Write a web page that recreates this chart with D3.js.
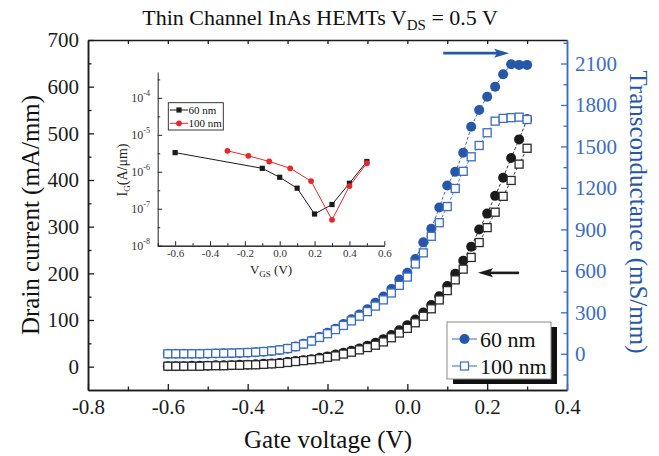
<!DOCTYPE html>
<html><head><meta charset="utf-8">
<script src="https://cdn.jsdelivr.net/npm/d3@7"></script>
<style>body{margin:0;background:#fff} svg{display:block} text{font-family:"Liberation Serif","Times New Roman",serif}</style>
</head><body><svg id="c" width="659" height="456"></svg>
<script>
// ---------- data ----------
const gateV = [-0.60,-0.58,-0.56,-0.54,-0.52,-0.50,-0.48,-0.46,-0.44,-0.42,-0.40,-0.38,-0.36,-0.34,-0.32,-0.30,-0.28,-0.26,-0.24,-0.22,-0.20,-0.18,-0.16,-0.14,-0.12,-0.10,-0.08,-0.06,-0.04,-0.02,0.00,0.02,0.04,0.06,0.08,0.10,0.12,0.14,0.16,0.18,0.20,0.22,0.24,0.26,0.28,0.30];
const id60  = [1,1,1,2,2,2,3,3,3,4,4,5,6,7,8,10,12,14,16,19,22,26,30,34,39,45,51,59,68,78,89,101,116,132,151,173,199,227,257,294,328,366,405,447,487,530];
const id100 = [1,1,1,1,1,2,2,2,3,3,4,4,5,6,7,9,11,13,15,17,20,23,27,31,36,41,46,53,62,72,82,94,108,124,143,163,186,209,234,266,298,331,365,399,434,468];
const gm60  = [0,0,0,0,0,1,2,3,4,6,8,11,15,20,27,37,52,72,95,122,152,182,215,250,285,322,370,414,468,538,586,685,806,905,1058,1217,1316,1454,1642,1763,1860,1932,2022,2095,2090,2090];
const gm100 = [0,0,0,0,0,2,3,4,5,7,9,12,16,21,28,38,52,70,92,118,145,175,205,238,272,305,345,390,440,495,555,650,730,850,948,1065,1196,1320,1425,1507,1599,1683,1703,1708,1712,1695];

const xTickLabels = [-0.8,-0.6,-0.4,-0.2,0.0,0.2,0.4];
const leftTicks = [0,100,200,300,400,500,600,700];
const rightTicks = [0,300,600,900,1200,1500,1800,2100];
const legendLabels = ["60 nm","100 nm"];

const insetV60  = [-0.6,-0.1,0.0,0.1,0.2,0.3,0.4,0.5];
const insetIg60 = [3.3e-6,1.24e-6,7.1e-7,3.6e-7,7.2e-8,1.3e-7,4.9e-7,1.9e-6];
const insetV100 = [-0.3,-0.18,-0.06,0.06,0.18,0.3,0.4,0.5];
const insetIg100= [3.7e-6,2.7e-6,1.9e-6,1.24e-6,5.6e-7,5.0e-8,4.1e-7,1.7e-6];
const insetXTicks = [-0.6,-0.4,-0.2,0.0,0.2,0.4,0.6];
const insetYExp = [-8,-7,-6,-5,-4];

// ---------- setup ----------
const svg = d3.select('#c');
const BLUE = '#2657a8', BLUE2 = '#3b6cc2', RED = '#e8262b', BLK = '#1b1b1b';
const FONT = '"Liberation Serif","Times New Roman",serif';
const x  = d3.scaleLinear([-0.8,0.4],[88,567]);
const yL = d3.scaleLinear([-50,700],[390,40]);
const yR = d3.scaleLinear([-262,2270],[390,40]);
const f1 = d => d3.format('.1f')(d).replace('\u2212','-');
const fInt = d => String(d);

function style(g, color, fs){
  g.attr('font-family',FONT).attr('font-size',fs);
  g.select('.domain').attr('stroke',color).attr('stroke-width',1.5);
  g.selectAll('.tick line').attr('stroke',color).attr('stroke-width',1.3);
  g.selectAll('.tick text').attr('fill',color);
}
const r2 = (a,b,s)=>d3.range(a,b+s/2,s).map(v=>+v.toFixed(3));

// bottom axis
style(svg.append('g').attr('transform','translate(0,390)')
  .call(d3.axisBottom(x).tickValues(r2(-0.7,0.3,0.2)).tickSize(-3.5).tickSizeOuter(0).tickFormat('')),BLK,20);
style(svg.append('g').attr('transform','translate(0,390)')
  .call(d3.axisBottom(x).tickValues(xTickLabels).tickSize(-6).tickSizeOuter(0).tickPadding(9).tickFormat(f1)),BLK,21);
// top axis
style(svg.append('g').attr('transform','translate(0,40)')
  .call(d3.axisTop(x).tickValues(r2(-0.7,0.3,0.1)).tickSize(-4).tickSizeOuter(0).tickFormat('')),BLK,20);
// left axis
style(svg.append('g').attr('transform','translate(88,0)')
  .call(d3.axisLeft(yL).tickValues(r2(50,650,100)).tickSize(-3.5).tickSizeOuter(0).tickFormat('')),BLK,20);
style(svg.append('g').attr('transform','translate(88,0)')
  .call(d3.axisLeft(yL).tickValues(leftTicks).tickSize(-6).tickSizeOuter(0).tickPadding(9).tickFormat(fInt)),BLK,21);
// right axis (blue)
style(svg.append('g').attr('transform','translate(567,0)')
  .call(d3.axisRight(yR).tickValues(r2(-150,2250,300)).tickSize(-3.5).tickSizeOuter(0).tickFormat('')),BLUE2,20);
style(svg.append('g').attr('transform','translate(567,0)')
  .call(d3.axisRight(yR).tickValues(rightTicks).tickSize(-6).tickSizeOuter(0).tickPadding(8).tickFormat(fInt)),BLUE2,21);

// titles
const title = svg.append('text').attr('x',320).attr('y',25).attr('text-anchor','middle').attr('font-size',22).attr('fill','#111');
title.append('tspan').text('Thin Channel InAs HEMTs V');
title.append('tspan').attr('dy',5).attr('font-size',15).text('DS');
title.append('tspan').attr('dy',-5).text(' = 0.5 V');
svg.append('text').attr('x',328).attr('y',448).attr('text-anchor','middle').attr('font-size',25).attr('fill','#111').text('Gate voltage (V)');
svg.append('text').attr('transform','translate(39,215) rotate(-90)').attr('text-anchor','middle').attr('font-size',25).attr('fill','#111').text('Drain current (mA/mm)');
svg.append('text').attr('transform','translate(630,212) rotate(90)').attr('text-anchor','middle').attr('font-size',25).attr('fill',BLUE).text('Transconductance (mS/mm)');

// ---------- series ----------
function series(vals, yS, color, kind){
  const pts = gateV.map((v,i)=>[x(v), yS(vals[i])]);
  svg.append('path').attr('d',d3.line()(pts)).attr('fill','none').attr('stroke',color)
    .attr('stroke-width',0.9).attr('stroke-dasharray','3,2');
  const g = svg.append('g');
  if(kind==='c'){
    g.selectAll('circle').data(pts).join('circle').attr('cx',d=>d[0]).attr('cy',d=>d[1]).attr('r',5).attr('fill',color);
  } else {
    g.selectAll('rect').data(pts).join('rect').attr('x',d=>d[0]-4).attr('y',d=>d[1]-4).attr('width',8).attr('height',8)
      .attr('fill','#fff').attr('stroke',color).attr('stroke-width',1.3);
  }
}
series(id60, yL, BLK, 'c');
series(id100, yL, '#2a2a2a', 's');
series(gm60, yR, BLUE, 'c');
series(gm100, yR, BLUE2, 's');

// arrows
function arrow(x1,x2,yy,color){
  const dir = Math.sign(x2-x1);
  svg.append('line').attr('x1',x1).attr('x2',x2-dir*12).attr('y1',yy).attr('y2',yy).attr('stroke',color).attr('stroke-width',2.6);
  svg.append('path').attr('d',`M${x2},${yy} L${x2-dir*15},${yy-4.5} L${x2-dir*12},${yy} L${x2-dir*15},${yy+4.5} Z`).attr('fill',color);
}
arrow(x(0.09), x(0.255), yR(2175), BLUE);
arrow(x(0.28), x(0.177), yL(201), BLK);

// legend
const lg = svg.append('g');
lg.append('rect').attr('x',453).attr('y',327).attr('width',104).attr('height',57).attr('fill','#111');
lg.append('rect').attr('x',447).attr('y',322).attr('width',104).attr('height',57).attr('fill','#fff').attr('stroke','#8a8a8a').attr('stroke-width',1);
legendLabels.forEach((lab,i)=>{
  const yy = 339 + i*27;
  lg.append('line').attr('x1',452).attr('x2',477).attr('y1',yy).attr('y2',yy).attr('stroke',BLUE2).attr('stroke-width',1);
  if(i===0) lg.append('circle').attr('cx',464.5).attr('cy',yy).attr('r',5).attr('fill',BLUE);
  else lg.append('rect').attr('x',460.5).attr('y',yy-4).attr('width',8).attr('height',8).attr('fill','#fff').attr('stroke',BLUE2).attr('stroke-width',1.2);
  lg.append('text').attr('x',480).attr('y',yy+7.5).attr('font-size',22).attr('fill','#111').text(lab);
});

// ---------- inset ----------
const xi = d3.scaleLinear([-0.7,0.6],[157.7,384.3]);
const yi = d3.scaleLog([1e-8, Math.pow(10,-3.3)],[245.7,72]);
const ins = svg.append('g');
const ax1 = ins.append('g').attr('transform','translate(0,245.7)')
  .call(d3.axisBottom(xi).tickValues(r2(-0.7,0.5,0.2)).tickSize(-2.5).tickSizeOuter(0).tickFormat(''));
ax1.select('.domain').attr('stroke','#222');
ax1.selectAll('.tick line').attr('stroke','#222');
const ax2 = ins.append('g').attr('transform','translate(0,245.7)')
  .call(d3.axisBottom(xi).tickValues(insetXTicks).tickSize(-4.5).tickSizeOuter(0).tickPadding(4).tickFormat(f1));
ax2.attr('font-family',FONT).attr('font-size',11);
ax2.select('.domain').attr('stroke','#222');
ax2.selectAll('.tick line').attr('stroke','#222');
ax2.selectAll('.tick text').attr('fill','#333');
// left inset axis
const ax3 = ins.append('g').attr('transform','translate(157.7,0)')
  .call(d3.axisLeft(yi).tickValues(insetYExp.map(e=>Math.pow(10,e))).tickSize(-4.5).tickSizeOuter(0).tickFormat(''));
ax3.select('.domain').attr('stroke','#222');
ax3.selectAll('.tick line').attr('stroke','#222');
const ax4 = ins.append('g').attr('transform','translate(157.7,0)')
  .call(d3.axisLeft(yi).tickValues([-7.5,-6.5,-5.5,-4.5,-3.5].map(e=>Math.pow(10,e))).tickSize(-2.5).tickSizeOuter(0).tickFormat(''));
ax4.select('.domain').remove();
ax4.selectAll('.tick line').attr('stroke','#222');
insetYExp.forEach(e=>{
  const t = ins.append('text').attr('x',150).attr('y',yi(Math.pow(10,e))+4).attr('text-anchor','end')
    .attr('font-size',12).attr('fill','#333');
  t.append('tspan').text('10');
  t.append('tspan').attr('dy',-6).attr('font-size',8).text(String(e));
});
const xl = ins.append('text').attr('x',271).attr('y',274).attr('text-anchor','middle').attr('font-size',13).attr('fill','#222');
xl.append('tspan').text('V');
xl.append('tspan').attr('dy',3).attr('font-size',9).text('GS');
xl.append('tspan').attr('dy',-3).text(' (V)');
const yl = ins.append('text').attr('transform','translate(127,170) rotate(-90)').attr('text-anchor','middle').attr('font-size',14).attr('fill','#222');
yl.append('tspan').text('I');
yl.append('tspan').attr('dy',3).attr('font-size',9).text('G');
yl.append('tspan').attr('dy',-3).text('(A/μm)');

function iseries(vs, is, color, kind){
  const pts = vs.map((v,i)=>[xi(v), yi(is[i])]);
  ins.append('path').attr('d',d3.line()(pts)).attr('fill','none').attr('stroke',color).attr('stroke-width',1);
  if(kind==='s') ins.append('g').selectAll('rect').data(pts).join('rect').attr('x',d=>d[0]-2.6).attr('y',d=>d[1]-2.6).attr('width',5.2).attr('height',5.2).attr('fill',color);
  else ins.append('g').selectAll('circle').data(pts).join('circle').attr('cx',d=>d[0]).attr('cy',d=>d[1]).attr('r',2.9).attr('fill',color);
}
iseries(insetV60, insetIg60, BLK, 's');
iseries(insetV100, insetIg100, RED, 'c');

// inset legend
ins.append('rect').attr('x',168.3).attr('y',102.7).attr('width',55).attr('height',27.3).attr('fill','#fff').attr('stroke','#222').attr('stroke-width',0.9);
[["60 nm",BLK,'s'],["100 nm",RED,'c']].forEach((d,i)=>{
  const yy = 110 + i*13.3;
  ins.append('line').attr('x1',170).attr('x2',188).attr('y1',yy).attr('y2',yy).attr('stroke',d[1]).attr('stroke-width',1);
  if(d[2]==='s') ins.append('rect').attr('x',176.4).attr('y',yy-2.6).attr('width',5.2).attr('height',5.2).attr('fill',d[1]);
  else ins.append('circle').attr('cx',179).attr('cy',yy).attr('r',2.9).attr('fill',d[1]);
  ins.append('text').attr('x',188.5).attr('y',yy+3.8).attr('font-size',11).attr('fill','#111').text(d[0]);
});
</script></body></html>
